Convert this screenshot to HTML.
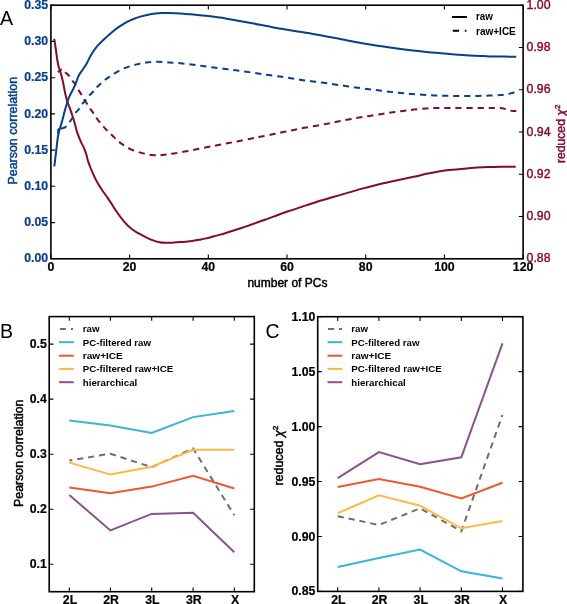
<!DOCTYPE html><html><head><meta charset="utf-8"><style>html,body{margin:0;padding:0;background:#fff;overflow:hidden}svg{display:block;will-change:transform}</style></head><body><svg width="567" height="604" viewBox="0 0 567 604">
<rect width="567" height="604" fill="#fff"/>
<g fill="none" stroke-linejoin="round">
<path d="M54.20,38.80 C54.37,39.83 54.87,42.80 55.20,45.00 C55.53,47.20 55.85,49.50 56.20,52.00 C56.55,54.50 56.92,57.67 57.30,60.00 C57.68,62.33 58.03,64.20 58.50,66.00 C58.97,67.80 59.58,69.10 60.10,70.80 C60.62,72.50 61.08,74.17 61.60,76.20 C62.12,78.23 62.67,80.45 63.20,83.00 C63.73,85.55 64.18,88.62 64.80,91.50 C65.42,94.38 66.02,97.42 66.90,100.30 C67.78,103.18 69.05,105.85 70.10,108.80 C71.15,111.75 72.33,115.22 73.20,118.00 C74.07,120.78 74.58,122.93 75.30,125.50 C76.02,128.07 76.62,130.80 77.50,133.40 C78.38,136.00 79.55,138.73 80.60,141.10 C81.65,143.47 82.87,145.45 83.80,147.60 C84.73,149.75 85.52,151.83 86.20,154.00 C86.88,156.17 87.17,158.27 87.90,160.60 C88.63,162.93 89.62,165.53 90.60,168.00 C91.58,170.47 92.65,172.93 93.80,175.40 C94.95,177.87 96.10,180.33 97.50,182.80 C98.90,185.27 100.53,187.73 102.20,190.20 C103.87,192.67 105.92,195.30 107.50,197.60 C109.08,199.90 110.20,201.68 111.70,204.00 C113.20,206.32 114.43,208.57 116.50,211.50 C118.57,214.43 121.65,218.75 124.10,221.60 C126.55,224.45 128.85,226.67 131.20,228.60 C133.55,230.53 135.85,231.82 138.20,233.20 C140.55,234.58 142.95,235.75 145.30,236.90 C147.65,238.05 149.95,239.22 152.30,240.10 C154.65,240.98 157.28,241.75 159.40,242.20 C161.52,242.65 163.07,242.72 165.00,242.80 C166.93,242.88 169.00,242.80 171.00,242.70 C173.00,242.60 174.93,242.33 177.00,242.20 C179.07,242.07 180.88,242.10 183.40,241.90 C185.92,241.70 189.48,241.35 192.10,241.00 C194.72,240.65 196.75,240.23 199.10,239.80 C201.45,239.37 203.85,238.95 206.20,238.40 C208.55,237.85 210.85,237.13 213.20,236.50 C215.55,235.87 217.95,235.27 220.30,234.60 C222.65,233.93 224.95,233.22 227.30,232.50 C229.65,231.78 232.05,231.05 234.40,230.30 C236.75,229.55 239.05,228.78 241.40,228.00 C243.75,227.22 246.15,226.42 248.50,225.60 C250.85,224.78 252.75,224.07 255.50,223.10 C258.25,222.13 261.90,220.92 265.00,219.80 C268.10,218.68 270.23,217.82 274.10,216.40 C277.97,214.98 283.50,212.93 288.20,211.30 C292.90,209.67 297.60,208.15 302.30,206.60 C307.00,205.05 311.70,203.47 316.40,202.00 C321.10,200.53 325.05,199.40 330.50,197.80 C335.95,196.20 343.65,193.97 349.10,192.40 C354.55,190.83 358.50,189.67 363.20,188.40 C367.90,187.13 372.60,185.95 377.30,184.80 C382.00,183.65 386.70,182.57 391.40,181.50 C396.10,180.43 401.57,179.23 405.50,178.40 C409.43,177.57 411.02,177.35 415.00,176.50 C418.98,175.65 423.77,174.37 429.40,173.30 C435.03,172.23 442.33,170.93 448.80,170.10 C455.27,169.27 461.73,168.80 468.20,168.30 C474.67,167.80 482.10,167.37 487.60,167.10 C493.10,166.83 496.52,166.77 501.20,166.70 C505.88,166.63 513.28,166.70 515.70,166.70" stroke="#840a30" stroke-width="2.0"/>
<path d="M57.90,72.10 C58.67,71.62 61.32,69.18 62.50,69.20 C63.68,69.22 63.88,71.10 65.00,72.20 C66.12,73.30 68.02,74.45 69.20,75.80 C70.38,77.15 71.07,78.83 72.10,80.30 C73.13,81.77 74.42,83.08 75.40,84.60 C76.38,86.12 77.03,87.80 78.00,89.40 C78.97,91.00 80.22,92.55 81.20,94.20 C82.18,95.85 82.93,97.72 83.90,99.30 C84.87,100.88 86.02,102.23 87.00,103.70 C87.98,105.17 88.73,106.52 89.80,108.10 C90.87,109.68 92.18,111.42 93.40,113.20 C94.62,114.98 95.32,116.45 97.10,118.80 C98.88,121.15 101.52,124.47 104.10,127.30 C106.68,130.13 109.78,133.12 112.60,135.80 C115.42,138.48 117.95,141.15 121.00,143.40 C124.05,145.65 127.37,147.68 130.90,149.30 C134.43,150.92 138.67,152.15 142.20,153.10 C145.73,154.05 149.13,154.63 152.10,155.00 C155.07,155.37 157.68,155.37 160.00,155.30 C162.32,155.23 163.65,154.92 166.00,154.60 C168.35,154.28 170.98,153.90 174.10,153.40 C177.22,152.90 181.17,152.23 184.70,151.60 C188.23,150.97 191.48,150.35 195.30,149.60 C199.12,148.85 203.78,147.85 207.60,147.10 C211.42,146.35 214.67,145.78 218.20,145.10 C221.73,144.42 225.27,143.70 228.80,143.00 C232.33,142.30 235.58,141.65 239.40,140.90 C243.22,140.15 248.52,139.13 251.70,138.50 C254.88,137.87 255.02,137.80 258.50,137.10 C261.98,136.40 268.48,135.13 272.60,134.30 C276.72,133.47 279.67,132.83 283.20,132.10 C286.73,131.37 290.27,130.62 293.80,129.90 C297.33,129.18 300.58,128.50 304.40,127.80 C308.22,127.10 312.88,126.38 316.70,125.70 C320.52,125.02 323.77,124.40 327.30,123.70 C330.83,123.00 334.37,122.20 337.90,121.50 C341.43,120.80 344.97,120.15 348.50,119.50 C352.03,118.85 355.57,118.20 359.10,117.60 C362.63,117.00 365.88,116.52 369.70,115.90 C373.52,115.28 378.18,114.50 382.00,113.90 C385.82,113.30 389.07,112.80 392.60,112.30 C396.13,111.80 399.67,111.35 403.20,110.90 C406.73,110.45 409.98,110.00 413.80,109.60 C417.62,109.20 422.28,108.77 426.10,108.50 C429.92,108.23 433.12,108.10 436.70,108.00 C440.28,107.90 444.02,107.92 447.60,107.90 C451.18,107.88 454.52,107.90 458.20,107.90 C461.88,107.90 465.88,107.90 469.70,107.90 C473.52,107.90 477.43,107.90 481.10,107.90 C484.77,107.90 488.47,107.88 491.70,107.90 C494.93,107.92 498.45,107.88 500.50,108.00 C502.55,108.12 502.82,108.33 504.00,108.60 C505.18,108.87 506.52,109.27 507.60,109.60 C508.68,109.93 509.47,110.37 510.50,110.60 C511.53,110.83 512.83,110.92 513.80,111.00 C514.77,111.08 515.88,111.08 516.30,111.10" stroke="#840a30" stroke-width="2.0" stroke-dasharray="6.2,4.88" stroke-dashoffset="1.54"/>
<path d="M54.30,166.40 C54.62,163.82 55.68,155.22 56.20,150.90 C56.72,146.58 57.02,143.40 57.40,140.50 C57.78,137.60 58.03,135.67 58.50,133.50 C58.97,131.33 59.57,129.67 60.20,127.50 C60.83,125.33 61.57,123.15 62.30,120.50 C63.03,117.85 63.83,114.43 64.60,111.60 C65.37,108.77 66.17,105.88 66.90,103.50 C67.63,101.12 67.93,99.73 69.00,97.30 C70.07,94.87 72.10,91.45 73.30,88.90 C74.50,86.35 75.28,84.23 76.20,82.00 C77.12,79.77 77.70,77.58 78.80,75.50 C79.90,73.42 81.43,71.58 82.80,69.50 C84.17,67.42 85.65,65.38 87.00,63.00 C88.35,60.62 89.23,57.97 90.90,55.20 C92.57,52.43 94.75,49.12 97.00,46.40 C99.25,43.68 101.75,41.40 104.40,38.90 C107.05,36.40 110.42,33.43 112.90,31.40 C115.38,29.37 116.95,28.28 119.30,26.70 C121.65,25.12 124.53,23.23 127.00,21.90 C129.47,20.57 131.73,19.62 134.10,18.70 C136.47,17.78 138.85,17.07 141.20,16.40 C143.55,15.73 145.85,15.17 148.20,14.70 C150.55,14.23 152.95,13.88 155.30,13.60 C157.65,13.32 159.95,13.12 162.30,13.00 C164.65,12.88 167.05,12.85 169.40,12.90 C171.75,12.95 174.05,13.15 176.40,13.30 C178.75,13.45 181.15,13.63 183.50,13.80 C185.85,13.97 188.08,14.10 190.50,14.30 C192.92,14.50 195.45,14.75 198.00,15.00 C200.55,15.25 202.13,15.37 205.80,15.80 C209.47,16.23 215.77,16.98 220.00,17.60 C224.23,18.22 225.82,18.55 231.20,19.50 C236.58,20.45 245.25,21.98 252.30,23.30 C259.35,24.62 266.43,26.13 273.50,27.40 C280.57,28.67 287.65,29.73 294.70,30.90 C301.75,32.07 308.05,33.02 315.80,34.40 C323.55,35.78 333.45,37.73 341.20,39.20 C348.95,40.67 355.25,41.97 362.30,43.20 C369.35,44.43 376.43,45.53 383.50,46.60 C390.57,47.67 397.65,48.72 404.70,49.60 C411.75,50.48 419.72,51.28 425.80,51.90 C431.88,52.52 435.12,52.78 441.20,53.30 C447.28,53.82 455.25,54.53 462.30,55.00 C469.35,55.47 478.22,55.85 483.50,56.10 C488.78,56.35 488.53,56.40 494.00,56.50 C499.47,56.60 512.58,56.67 516.30,56.70" stroke="#063f8a" stroke-width="2.0"/>
<path d="M58.20,133.30 C58.23,132.68 57.93,130.38 58.40,129.60 C58.87,128.82 59.83,129.02 61.00,128.60 C62.17,128.18 64.03,128.13 65.40,127.10 C66.77,126.07 68.12,123.78 69.20,122.40 C70.28,121.02 70.90,120.33 71.90,118.80 C72.90,117.27 74.08,114.75 75.20,113.20 C76.32,111.65 77.52,110.92 78.60,109.50 C79.68,108.08 80.57,106.20 81.70,104.70 C82.83,103.20 84.15,102.00 85.40,100.50 C86.65,99.00 87.95,97.12 89.20,95.70 C90.45,94.28 91.67,93.37 92.90,92.00 C94.13,90.63 95.37,88.85 96.60,87.50 C97.83,86.15 98.98,85.10 100.30,83.90 C101.62,82.70 103.00,81.47 104.50,80.30 C106.00,79.13 107.47,78.15 109.30,76.90 C111.13,75.65 112.82,74.30 115.50,72.80 C118.18,71.30 121.87,69.30 125.40,67.90 C128.93,66.50 133.17,65.30 136.70,64.40 C140.23,63.50 143.08,62.93 146.60,62.50 C150.12,62.07 154.05,61.82 157.80,61.80 C161.55,61.78 165.35,62.15 169.10,62.40 C172.85,62.65 176.52,62.95 180.30,63.30 C184.08,63.65 188.13,64.07 191.80,64.50 C195.47,64.93 198.63,65.40 202.30,65.90 C205.97,66.40 209.97,67.00 213.80,67.50 C217.63,68.00 221.63,68.43 225.30,68.90 C228.97,69.37 232.28,69.82 235.80,70.30 C239.32,70.78 242.72,71.27 246.40,71.80 C250.08,72.33 254.22,72.95 257.90,73.50 C261.58,74.05 264.82,74.58 268.50,75.10 C272.18,75.62 276.32,76.08 280.00,76.60 C283.68,77.12 287.07,77.65 290.60,78.20 C294.13,78.75 297.53,79.37 301.20,79.90 C304.87,80.43 308.78,80.92 312.60,81.40 C316.42,81.88 320.42,82.30 324.10,82.80 C327.78,83.30 331.18,83.88 334.70,84.40 C338.22,84.92 341.72,85.38 345.20,85.90 C348.68,86.42 351.97,86.98 355.60,87.50 C359.23,88.02 363.33,88.53 367.00,89.00 C370.67,89.47 373.92,89.85 377.60,90.30 C381.28,90.75 385.27,91.27 389.10,91.70 C392.93,92.13 396.93,92.53 400.60,92.90 C404.27,93.27 407.43,93.58 411.10,93.90 C414.77,94.22 418.77,94.55 422.60,94.80 C426.43,95.05 430.37,95.23 434.10,95.40 C437.83,95.57 441.42,95.72 445.00,95.80 C448.58,95.88 452.07,95.88 455.60,95.90 C459.13,95.92 462.53,95.90 466.20,95.90 C469.87,95.90 473.78,95.95 477.60,95.90 C481.42,95.85 485.28,95.73 489.10,95.60 C492.92,95.47 497.68,95.28 500.50,95.10 C503.32,94.92 504.23,94.80 506.00,94.50 C507.77,94.20 509.70,93.67 511.10,93.30 C512.50,92.93 513.85,92.47 514.40,92.30" stroke="#063f8a" stroke-width="2.0" stroke-dasharray="6.2,4.88" stroke-dashoffset="4.65"/>
<path d="M58.2,133.4L58.3,129.4L59.6,129.0" stroke="#063f8a" stroke-width="2.0"/>
</g>
<rect x="50.9" y="5.2" width="472.20000000000005" height="253.60000000000002" fill="none" stroke="#000" stroke-width="1.6"/>
<path d="M50.9,258.8v-4.2M50.9,5.2v4.2M129.6,258.8v-4.2M129.6,5.2v4.2M208.3,258.8v-4.2M208.3,5.2v4.2M287.0,258.8v-4.2M287.0,5.2v4.2M365.7,258.8v-4.2M365.7,5.2v4.2M444.4,258.8v-4.2M444.4,5.2v4.2M523.1,258.8v-4.2M523.1,5.2v4.2M50.9,258.8h4.2M50.9,222.6h4.2M50.9,186.3h4.2M50.9,150.1h4.2M50.9,113.9h4.2M50.9,77.7h4.2M50.9,41.4h4.2M50.9,5.2h4.2M523.1,258.8h-4.2M523.1,216.5h-4.2M523.1,174.3h-4.2M523.1,132.0h-4.2M523.1,89.7h-4.2M523.1,47.5h-4.2M523.1,5.2h-4.2" stroke="#000" stroke-width="1.1"/>
<text x="50.9" y="271.4" text-anchor="middle" style="font-family:'Liberation Sans',sans-serif;font-weight:bold;font-size:12.3px;stroke:currentColor;stroke-width:0.2px">0</text>
<text x="129.6" y="271.4" text-anchor="middle" style="font-family:'Liberation Sans',sans-serif;font-weight:bold;font-size:12.3px;stroke:currentColor;stroke-width:0.2px">20</text>
<text x="208.3" y="271.4" text-anchor="middle" style="font-family:'Liberation Sans',sans-serif;font-weight:bold;font-size:12.3px;stroke:currentColor;stroke-width:0.2px">40</text>
<text x="287.0" y="271.4" text-anchor="middle" style="font-family:'Liberation Sans',sans-serif;font-weight:bold;font-size:12.3px;stroke:currentColor;stroke-width:0.2px">60</text>
<text x="365.7" y="271.4" text-anchor="middle" style="font-family:'Liberation Sans',sans-serif;font-weight:bold;font-size:12.3px;stroke:currentColor;stroke-width:0.2px">80</text>
<text x="444.4" y="271.4" text-anchor="middle" style="font-family:'Liberation Sans',sans-serif;font-weight:bold;font-size:12.3px;stroke:currentColor;stroke-width:0.2px">100</text>
<text x="523.1" y="271.4" text-anchor="middle" style="font-family:'Liberation Sans',sans-serif;font-weight:bold;font-size:12.3px;stroke:currentColor;stroke-width:0.2px">120</text>
<text x="48.2" y="262.4" text-anchor="end" fill="#063f8a" color="#063f8a" style="font-family:'Liberation Sans',sans-serif;font-weight:bold;font-size:12.3px;stroke:currentColor;stroke-width:0.2px">0.00</text>
<text x="48.2" y="226.2" text-anchor="end" fill="#063f8a" color="#063f8a" style="font-family:'Liberation Sans',sans-serif;font-weight:bold;font-size:12.3px;stroke:currentColor;stroke-width:0.2px">0.05</text>
<text x="48.2" y="189.9" text-anchor="end" fill="#063f8a" color="#063f8a" style="font-family:'Liberation Sans',sans-serif;font-weight:bold;font-size:12.3px;stroke:currentColor;stroke-width:0.2px">0.10</text>
<text x="48.2" y="153.7" text-anchor="end" fill="#063f8a" color="#063f8a" style="font-family:'Liberation Sans',sans-serif;font-weight:bold;font-size:12.3px;stroke:currentColor;stroke-width:0.2px">0.15</text>
<text x="48.2" y="117.5" text-anchor="end" fill="#063f8a" color="#063f8a" style="font-family:'Liberation Sans',sans-serif;font-weight:bold;font-size:12.3px;stroke:currentColor;stroke-width:0.2px">0.20</text>
<text x="48.2" y="81.3" text-anchor="end" fill="#063f8a" color="#063f8a" style="font-family:'Liberation Sans',sans-serif;font-weight:bold;font-size:12.3px;stroke:currentColor;stroke-width:0.2px">0.25</text>
<text x="48.2" y="45.0" text-anchor="end" fill="#063f8a" color="#063f8a" style="font-family:'Liberation Sans',sans-serif;font-weight:bold;font-size:12.3px;stroke:currentColor;stroke-width:0.2px">0.30</text>
<text x="48.2" y="8.8" text-anchor="end" fill="#063f8a" color="#063f8a" style="font-family:'Liberation Sans',sans-serif;font-weight:bold;font-size:12.3px;stroke:currentColor;stroke-width:0.2px">0.35</text>
<text x="526.6" y="262.4" fill="#840a30" style="font-family:'Liberation Sans',sans-serif;font-weight:bold;font-size:12.3px;stroke:currentColor;stroke-width:0.2px;font-weight:normal;stroke:#840a30;stroke-width:0.4px">0.88</text>
<text x="526.6" y="220.1" fill="#840a30" style="font-family:'Liberation Sans',sans-serif;font-weight:bold;font-size:12.3px;stroke:currentColor;stroke-width:0.2px;font-weight:normal;stroke:#840a30;stroke-width:0.4px">0.90</text>
<text x="526.6" y="177.9" fill="#840a30" style="font-family:'Liberation Sans',sans-serif;font-weight:bold;font-size:12.3px;stroke:currentColor;stroke-width:0.2px;font-weight:normal;stroke:#840a30;stroke-width:0.4px">0.92</text>
<text x="526.6" y="135.6" fill="#840a30" style="font-family:'Liberation Sans',sans-serif;font-weight:bold;font-size:12.3px;stroke:currentColor;stroke-width:0.2px;font-weight:normal;stroke:#840a30;stroke-width:0.4px">0.94</text>
<text x="526.6" y="93.3" fill="#840a30" style="font-family:'Liberation Sans',sans-serif;font-weight:bold;font-size:12.3px;stroke:currentColor;stroke-width:0.2px;font-weight:normal;stroke:#840a30;stroke-width:0.4px">0.96</text>
<text x="526.6" y="51.1" fill="#840a30" style="font-family:'Liberation Sans',sans-serif;font-weight:bold;font-size:12.3px;stroke:currentColor;stroke-width:0.2px;font-weight:normal;stroke:#840a30;stroke-width:0.4px">0.98</text>
<text x="526.6" y="8.8" fill="#840a30" style="font-family:'Liberation Sans',sans-serif;font-weight:bold;font-size:12.3px;stroke:currentColor;stroke-width:0.2px;font-weight:normal;stroke:#840a30;stroke-width:0.4px">1.00</text>
<text x="287.4" y="286.7" text-anchor="middle" style="font-family:'Liberation Sans',sans-serif;font-size:12px;stroke:currentColor;stroke-width:0.45px">number of PCs</text>
<text transform="translate(17.4,130.7) rotate(-90)" text-anchor="middle" fill="#063f8a" color="#063f8a" style="font-family:'Liberation Sans',sans-serif;font-size:12px;stroke:currentColor;stroke-width:0.45px" textLength="107.6" lengthAdjust="spacingAndGlyphs">Pearson correlation</text>
<text transform="translate(564.6,133.8) rotate(-90)" text-anchor="middle" fill="#840a30" color="#840a30" style="font-family:'Liberation Sans',sans-serif;font-size:12px;stroke:currentColor;stroke-width:0.45px" textLength="58.5" lengthAdjust="spacingAndGlyphs">reduced <tspan style="font-style:italic">&#967;</tspan><tspan dy="-5" style="font-size:8px">2</tspan></text>
<path d="M452.1,17h14.8" stroke="#000" stroke-width="2"/>
<path d="M452.8,30.8h6.3M464.8,30.8h1.6" stroke="#000" stroke-width="2"/>
<text x="476.0" y="20.3" style="font-family:'Liberation Sans',sans-serif;font-size:9.9px;font-weight:bold;font-size:10.6px" textLength="16.9" lengthAdjust="spacingAndGlyphs">raw</text>
<text x="476.0" y="34.6" style="font-family:'Liberation Sans',sans-serif;font-size:9.9px;font-weight:bold;font-size:10.6px" textLength="39.8" lengthAdjust="spacingAndGlyphs">raw+ICE</text>
<text x="0" y="24.7" style="font-family:'Liberation Sans',sans-serif;font-size:19.5px">A</text>
<polyline points="69.3,460.5 110.4,453.7 151.7,467.2 193.1,448.4 234.3,515.2" fill="none" stroke="#6e6e6e" stroke-width="2" stroke-linejoin="miter" stroke-dasharray="6.2,4.88" stroke-dashoffset="3.1"/>
<polyline points="69.3,420.4 110.4,425.4 151.7,433.0 193.1,417.1 234.3,411.0" fill="none" stroke="#36b7d7" stroke-width="2" stroke-linejoin="miter"/>
<polyline points="69.3,487.4 110.4,493.3 151.7,486.6 193.1,475.8 234.3,488.5" fill="none" stroke="#f2552f" stroke-width="2" stroke-linejoin="miter"/>
<polyline points="69.3,462.6 110.4,474.4 151.7,466.8 193.1,449.8 234.3,449.8" fill="none" stroke="#fdb946" stroke-width="2" stroke-linejoin="miter"/>
<polyline points="69.3,495.0 110.4,530.4 151.7,513.9 193.1,512.8 234.3,552.3" fill="none" stroke="#8c5290" stroke-width="2" stroke-linejoin="miter"/>
<rect x="49.2" y="316.6" width="205.10000000000002" height="275.1" fill="none" stroke="#000" stroke-width="1.6"/>
<path d="M69.3,591.7v-4.2M69.3,316.6v4.2M110.4,591.7v-4.2M110.4,316.6v4.2M151.7,591.7v-4.2M151.7,316.6v4.2M193.1,591.7v-4.2M193.1,316.6v4.2M234.3,591.7v-4.2M234.3,316.6v4.2M49.2,564.2h4.2M254.3,564.2h-4.2M49.2,509.2h4.2M254.3,509.2h-4.2M49.2,454.2h4.2M254.3,454.2h-4.2M49.2,399.1h4.2M254.3,399.1h-4.2M49.2,344.1h4.2M254.3,344.1h-4.2" stroke="#000" stroke-width="1.1"/>
<text x="70.0" y="603.8" text-anchor="middle" style="font-family:'Liberation Sans',sans-serif;font-weight:bold;font-size:12.3px;stroke:currentColor;stroke-width:0.2px">2L</text>
<text x="111.1" y="603.8" text-anchor="middle" style="font-family:'Liberation Sans',sans-serif;font-weight:bold;font-size:12.3px;stroke:currentColor;stroke-width:0.2px">2R</text>
<text x="152.4" y="603.8" text-anchor="middle" style="font-family:'Liberation Sans',sans-serif;font-weight:bold;font-size:12.3px;stroke:currentColor;stroke-width:0.2px">3L</text>
<text x="193.8" y="603.8" text-anchor="middle" style="font-family:'Liberation Sans',sans-serif;font-weight:bold;font-size:12.3px;stroke:currentColor;stroke-width:0.2px">3R</text>
<text x="235.0" y="603.8" text-anchor="middle" style="font-family:'Liberation Sans',sans-serif;font-weight:bold;font-size:12.3px;stroke:currentColor;stroke-width:0.2px">X</text>
<text x="46.9" y="568.2" text-anchor="end" style="font-family:'Liberation Sans',sans-serif;font-weight:bold;font-size:12.3px;stroke:currentColor;stroke-width:0.2px">0.1</text>
<text x="46.9" y="513.2" text-anchor="end" style="font-family:'Liberation Sans',sans-serif;font-weight:bold;font-size:12.3px;stroke:currentColor;stroke-width:0.2px">0.2</text>
<text x="46.9" y="458.2" text-anchor="end" style="font-family:'Liberation Sans',sans-serif;font-weight:bold;font-size:12.3px;stroke:currentColor;stroke-width:0.2px">0.3</text>
<text x="46.9" y="403.1" text-anchor="end" style="font-family:'Liberation Sans',sans-serif;font-weight:bold;font-size:12.3px;stroke:currentColor;stroke-width:0.2px">0.4</text>
<text x="46.9" y="348.1" text-anchor="end" style="font-family:'Liberation Sans',sans-serif;font-weight:bold;font-size:12.3px;stroke:currentColor;stroke-width:0.2px">0.5</text>
<text transform="translate(23.4,453.3) rotate(-90)" text-anchor="middle" style="font-family:'Liberation Sans',sans-serif;font-size:12px;stroke:currentColor;stroke-width:0.45px" textLength="107.4" lengthAdjust="spacingAndGlyphs">Pearson correlation</text>
<path d="M59.9,329.0h6.0M71.0,329.0h2.0" stroke="#6e6e6e" stroke-width="2"/>
<text x="82.8" y="331.9" style="font-family:'Liberation Sans',sans-serif;font-size:9.9px;font-weight:bold" textLength="16.7" lengthAdjust="spacingAndGlyphs">raw</text>
<path d="M59.0,342.2h14.8" stroke="#36b7d7" stroke-width="2"/>
<text x="82.8" y="345.6" style="font-family:'Liberation Sans',sans-serif;font-size:9.9px;font-weight:bold" textLength="68.2" lengthAdjust="spacingAndGlyphs">PC-filtered raw</text>
<path d="M59.0,355.7h14.8" stroke="#f2552f" stroke-width="2"/>
<text x="82.8" y="358.8" style="font-family:'Liberation Sans',sans-serif;font-size:9.9px;font-weight:bold" textLength="40.0" lengthAdjust="spacingAndGlyphs">raw+ICE</text>
<path d="M59.0,368.9h14.8" stroke="#fdb946" stroke-width="2"/>
<text x="82.8" y="372.3" style="font-family:'Liberation Sans',sans-serif;font-size:9.9px;font-weight:bold" textLength="90.5" lengthAdjust="spacingAndGlyphs">PC-filtered raw+ICE</text>
<path d="M59.0,382.2h14.8" stroke="#8c5290" stroke-width="2"/>
<text x="82.8" y="385.5" style="font-family:'Liberation Sans',sans-serif;font-size:9.9px;font-weight:bold" textLength="54.5" lengthAdjust="spacingAndGlyphs">hierarchical</text>
<text x="0.0" y="338.1" style="font-family:'Liberation Sans',sans-serif;font-size:19.5px">B</text>
<polyline points="337.7,516.2 378.9,525.0 420.1,508.3 461.3,531.2 502.5,414.8" fill="none" stroke="#6e6e6e" stroke-width="2" stroke-linejoin="miter" stroke-dasharray="6.2,4.88" stroke-dashoffset="0"/>
<polyline points="337.7,566.9 378.9,557.9 420.1,549.5 461.3,571.3 502.5,578.6" fill="none" stroke="#36b7d7" stroke-width="2" stroke-linejoin="miter"/>
<polyline points="337.7,487.0 378.9,479.0 420.1,486.8 461.3,498.4 502.5,482.8" fill="none" stroke="#f2552f" stroke-width="2" stroke-linejoin="miter"/>
<polyline points="337.7,513.2 378.9,495.4 420.1,505.7 461.3,528.3 502.5,521.0" fill="none" stroke="#fdb946" stroke-width="2" stroke-linejoin="miter"/>
<polyline points="337.7,478.1 378.9,452.1 420.1,464.3 461.3,457.3 502.5,343.3" fill="none" stroke="#8c5290" stroke-width="2" stroke-linejoin="miter"/>
<rect x="317.7" y="316.7" width="205.2" height="274.7" fill="none" stroke="#000" stroke-width="1.6"/>
<path d="M337.7,591.4v-4.2M337.7,316.7v4.2M378.9,591.4v-4.2M378.9,316.7v4.2M420.1,591.4v-4.2M420.1,316.7v4.2M461.3,591.4v-4.2M461.3,316.7v4.2M502.5,591.4v-4.2M502.5,316.7v4.2M317.7,591.4h4.2M522.9,591.4h-4.2M317.7,536.5h4.2M522.9,536.5h-4.2M317.7,481.5h4.2M522.9,481.5h-4.2M317.7,426.6h4.2M522.9,426.6h-4.2M317.7,371.6h4.2M522.9,371.6h-4.2M317.7,316.7h4.2M522.9,316.7h-4.2" stroke="#000" stroke-width="1.1"/>
<text x="338.4" y="603.8" text-anchor="middle" style="font-family:'Liberation Sans',sans-serif;font-weight:bold;font-size:12.3px;stroke:currentColor;stroke-width:0.2px">2L</text>
<text x="379.6" y="603.8" text-anchor="middle" style="font-family:'Liberation Sans',sans-serif;font-weight:bold;font-size:12.3px;stroke:currentColor;stroke-width:0.2px">2R</text>
<text x="420.8" y="603.8" text-anchor="middle" style="font-family:'Liberation Sans',sans-serif;font-weight:bold;font-size:12.3px;stroke:currentColor;stroke-width:0.2px">3L</text>
<text x="462.0" y="603.8" text-anchor="middle" style="font-family:'Liberation Sans',sans-serif;font-weight:bold;font-size:12.3px;stroke:currentColor;stroke-width:0.2px">3R</text>
<text x="503.2" y="603.8" text-anchor="middle" style="font-family:'Liberation Sans',sans-serif;font-weight:bold;font-size:12.3px;stroke:currentColor;stroke-width:0.2px">X</text>
<text x="315.4" y="595.4" text-anchor="end" style="font-family:'Liberation Sans',sans-serif;font-weight:bold;font-size:12.3px;stroke:currentColor;stroke-width:0.2px">0.85</text>
<text x="315.4" y="540.5" text-anchor="end" style="font-family:'Liberation Sans',sans-serif;font-weight:bold;font-size:12.3px;stroke:currentColor;stroke-width:0.2px">0.90</text>
<text x="315.4" y="485.5" text-anchor="end" style="font-family:'Liberation Sans',sans-serif;font-weight:bold;font-size:12.3px;stroke:currentColor;stroke-width:0.2px">0.95</text>
<text x="315.4" y="430.6" text-anchor="end" style="font-family:'Liberation Sans',sans-serif;font-weight:bold;font-size:12.3px;stroke:currentColor;stroke-width:0.2px">1.00</text>
<text x="315.4" y="375.6" text-anchor="end" style="font-family:'Liberation Sans',sans-serif;font-weight:bold;font-size:12.3px;stroke:currentColor;stroke-width:0.2px">1.05</text>
<text x="315.4" y="320.7" text-anchor="end" style="font-family:'Liberation Sans',sans-serif;font-weight:bold;font-size:12.3px;stroke:currentColor;stroke-width:0.2px">1.10</text>
<text transform="translate(283.3,455.6) rotate(-90)" text-anchor="middle" style="font-family:'Liberation Sans',sans-serif;font-size:12px;stroke:currentColor;stroke-width:0.45px" textLength="60" lengthAdjust="spacingAndGlyphs">reduced <tspan style="font-style:italic">&#967;</tspan><tspan dy="-5" style="font-size:8px">2</tspan></text>
<path d="M328.0,329.0h6.1M339.0,329.0h3.0" stroke="#6e6e6e" stroke-width="2"/>
<text x="351.3" y="331.9" style="font-family:'Liberation Sans',sans-serif;font-size:9.9px;font-weight:bold" textLength="16.7" lengthAdjust="spacingAndGlyphs">raw</text>
<path d="M327.5,342.2h14.8" stroke="#36b7d7" stroke-width="2"/>
<text x="351.3" y="345.6" style="font-family:'Liberation Sans',sans-serif;font-size:9.9px;font-weight:bold" textLength="68.2" lengthAdjust="spacingAndGlyphs">PC-filtered raw</text>
<path d="M327.5,355.7h14.8" stroke="#f2552f" stroke-width="2"/>
<text x="351.3" y="358.8" style="font-family:'Liberation Sans',sans-serif;font-size:9.9px;font-weight:bold" textLength="40.0" lengthAdjust="spacingAndGlyphs">raw+ICE</text>
<path d="M327.5,368.9h14.8" stroke="#fdb946" stroke-width="2"/>
<text x="351.3" y="372.3" style="font-family:'Liberation Sans',sans-serif;font-size:9.9px;font-weight:bold" textLength="90.5" lengthAdjust="spacingAndGlyphs">PC-filtered raw+ICE</text>
<path d="M327.5,382.2h14.8" stroke="#8c5290" stroke-width="2"/>
<text x="351.3" y="385.5" style="font-family:'Liberation Sans',sans-serif;font-size:9.9px;font-weight:bold" textLength="54.5" lengthAdjust="spacingAndGlyphs">hierarchical</text>
<text x="265.5" y="338.1" style="font-family:'Liberation Sans',sans-serif;font-size:19.5px">C</text>
</svg></body></html>
